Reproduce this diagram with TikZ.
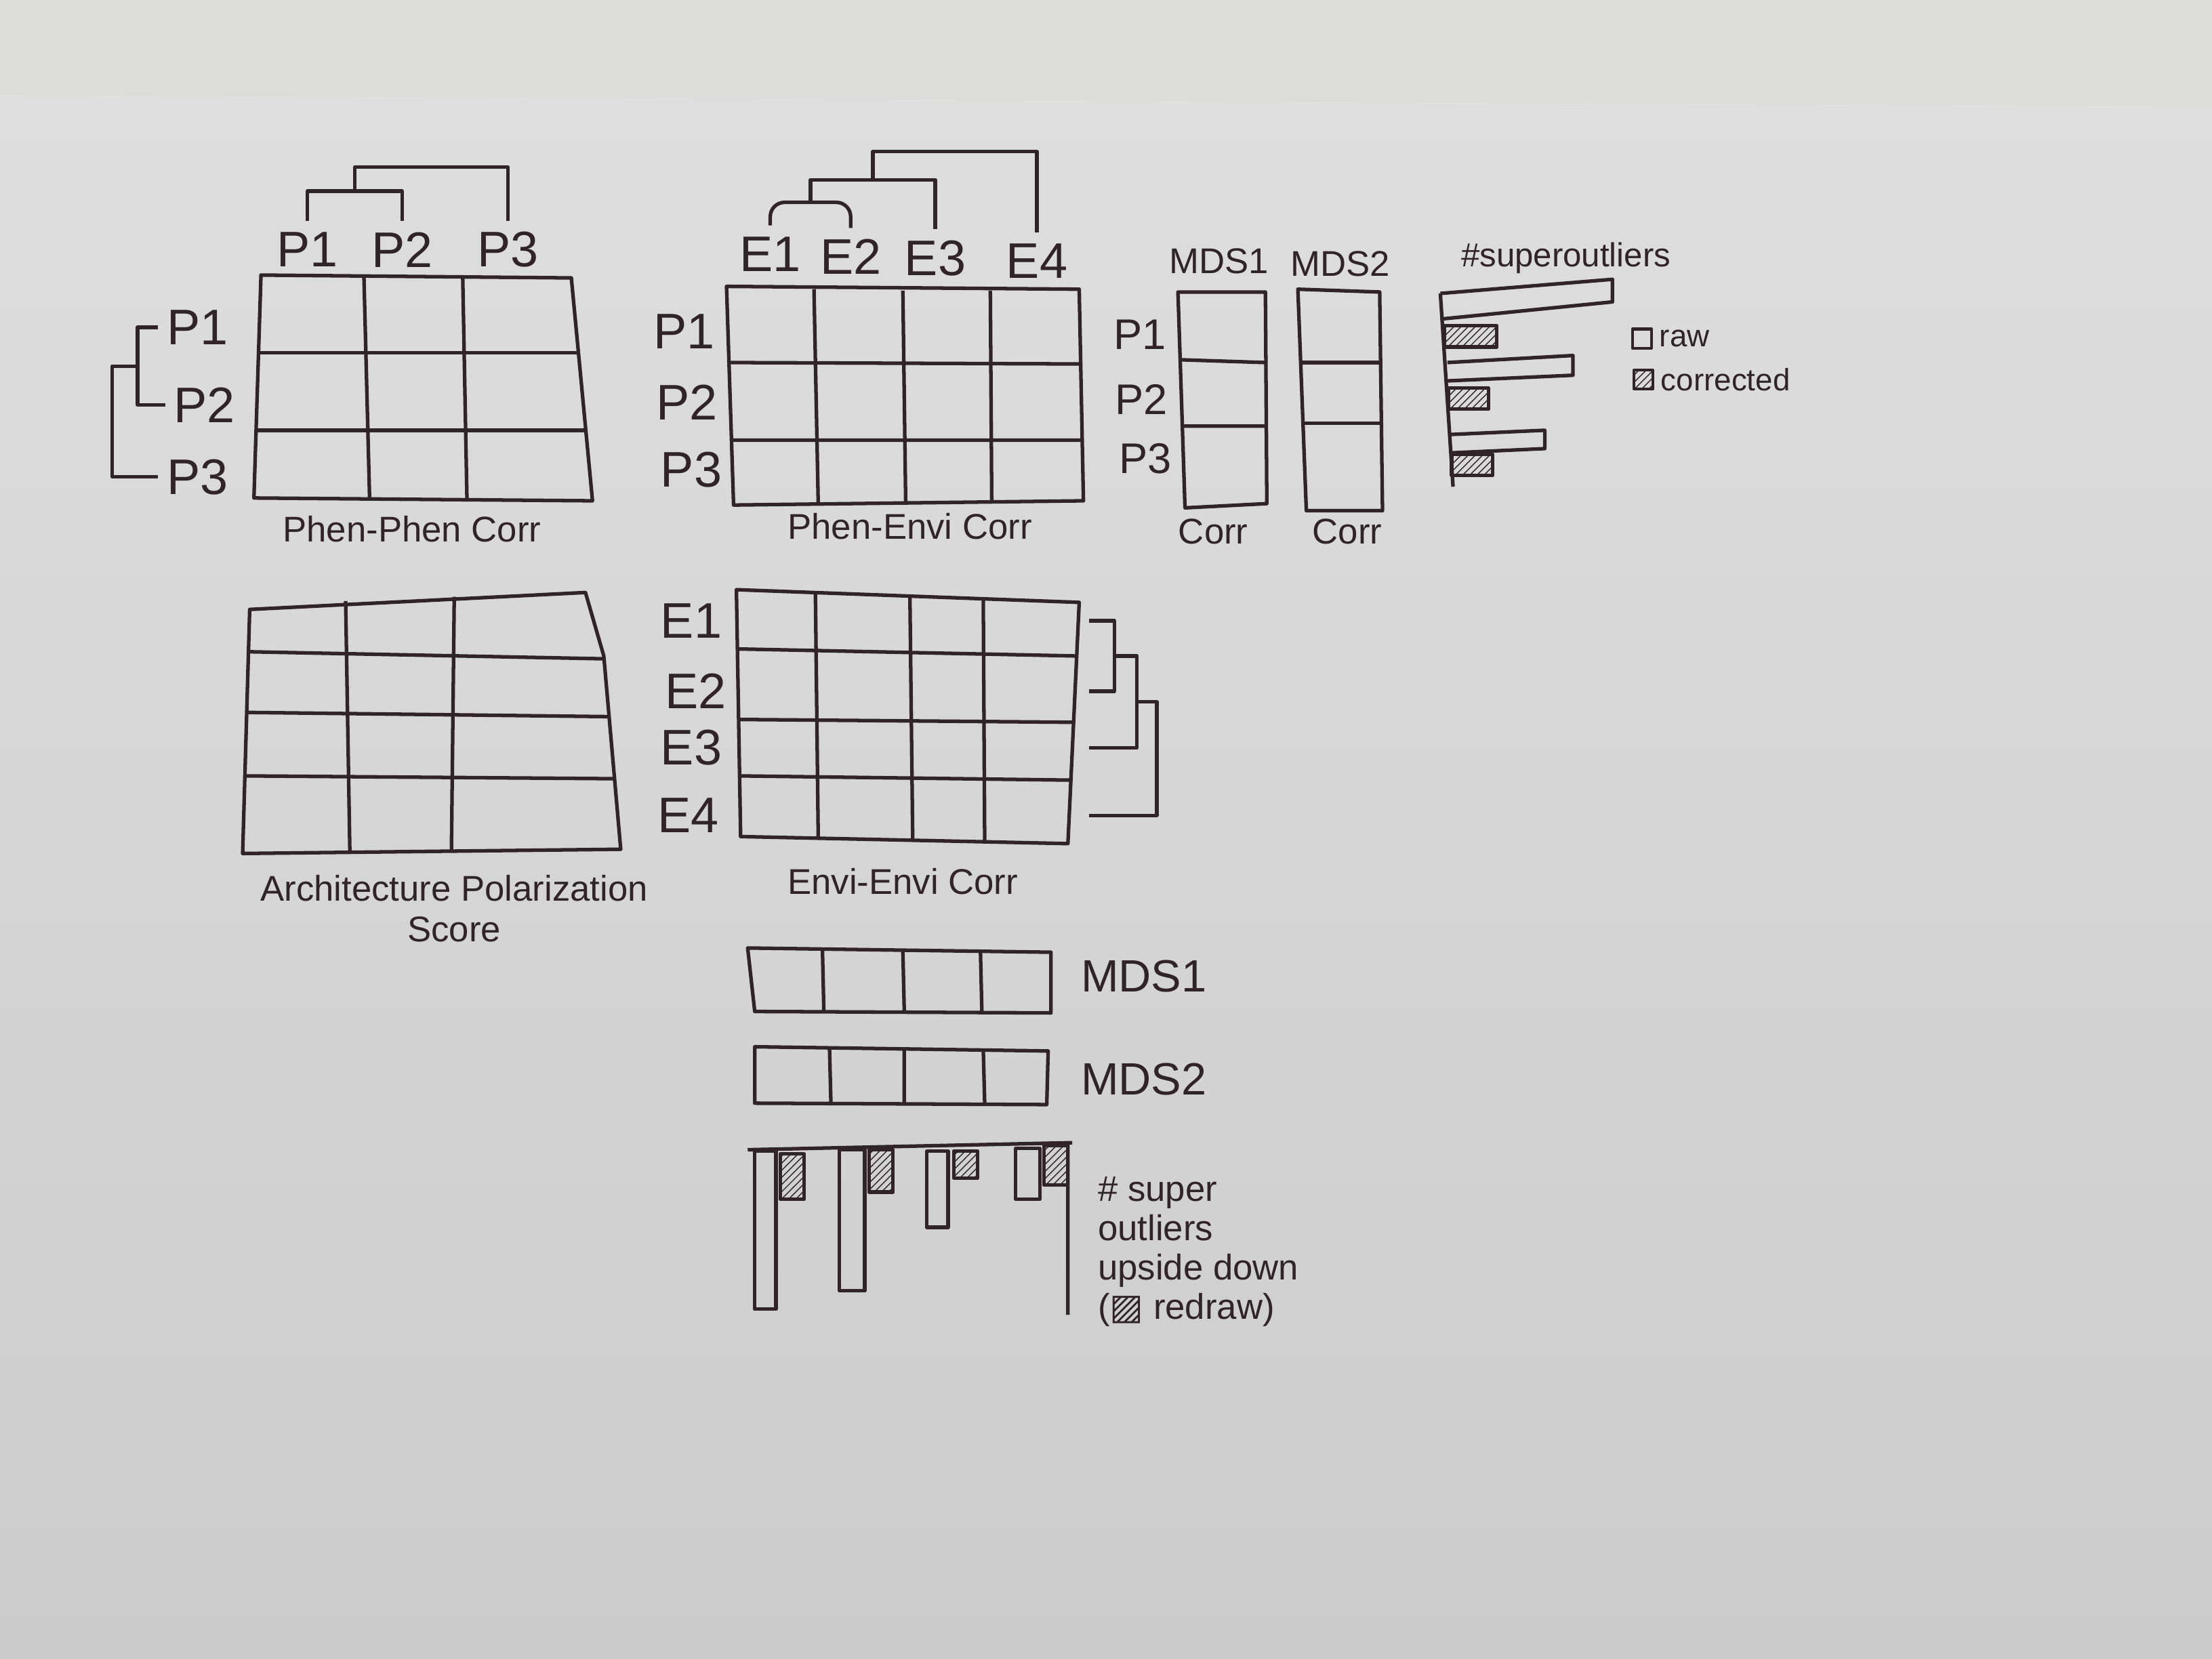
\documentclass[tikz,border=0pt]{standalone}
\usepackage{fontspec}
\setmainfont{Liberation Sans}
\newfontfamily\symbfont{DejaVu Sans}
\usetikzlibrary{calc,patterns,positioning}
\definecolor{ink}{RGB}{48,36,40}
\definecolor{paperhi}{RGB}{222,222,222}
\definecolor{paperlo}{RGB}{204,204,204}
\definecolor{wall}{RGB}{220,220,216}

\begin{document}
\begin{tikzpicture}[x=0.020816cm,y=-0.020816cm,color=ink,line width=1.5pt,line join=round,
	lbl/.style={font=\fontsize{21}{23}\selectfont,inner sep=0pt},
	captext/.style={font=\fontsize{15}{17}\selectfont,inner sep=0pt,align=center},
	note/.style={font=\fontsize{13}{14.5}\selectfont,inner sep=0pt,align=left},
	hatch/.style={draw=ink,pattern=north east lines,pattern color=ink}]
					%PAPER
					\useasboundingbox (0,0) rectangle (1568,1176);
					\fill[wall] (0,0) -- (1568,0) -- (1568,76) -- (0,68) -- cycle;
					\shade[top color=paperhi,bottom color=paperlo] (0,68) -- (1568,76) -- (1568,1176) -- (0,1176) -- cycle;
					%PHEN-PHEN CORR
					\draw (185,195) -- (405,197) -- (420,355) -- (180,353) -- cycle;
					\draw (258,197) -- (262,354) (328,196) -- (331,354);
					\draw (183,250) -- (410,250) (182,305) -- (415,305);
					\node[lbl] (ppc1) at (218,177) {P1};
					\node[lbl] (ppc2) at (285,177) {P2};
					\node[lbl] (ppc3) at (360,177) {P3};
					\node[lbl] (ppr1) at (140,232) {P1};
					\node[lbl] (ppr2) at (145,287) {P2};
					\node[lbl] (ppr3) at (140,338) {P3};
					\node[captext] (ppcap) at (292,375) {Phen-Phen Corr};
					\coordinate (pp12) at ($(ppc1.north)!0.5!(ppc2.north)+(0,-28)$);
					\draw ([yshift=4pt]ppc1.north) |- (pp12) -| ([yshift=4pt]ppc2.north);
					\draw (pp12) -- ++(0,-17) -| ([yshift=4pt]ppc3.north);
					\coordinate (pl12) at ($(ppr1.west)!0.5!(ppr2.west)+(-22,0)$);
					\draw ([xshift=-3pt]ppr1.west) -| (pl12) |- ([xshift=-3pt]ppr2.west);
					\draw (pl12) -- ++(-18,0) |- ([xshift=-3pt]ppr3.west);
					%PHEN-ENVI CORR
					\draw (515,203) -- (765,205) -- (768,355) -- (520,358) -- cycle;
					\draw (577,205) -- (580,357) (640,206) -- (642,356) (702,206) -- (703,355);
					\draw (517,257) -- (766,258) (519,312) -- (767,312);
					\node[lbl] (pec1) at (546,180) {E1};
					\node[lbl] (pec2) at (603,182) {E2};
					\node[lbl] (pec3) at (663,183) {E3};
					\node[lbl] (pec4) at (735,185) {E4};
					\node[lbl] (per1) at (485,235) {P1};
					\node[lbl] (per2) at (487,285) {P2};
					\node[lbl] (per3) at (490,333) {P3};
					\node[captext] (pecap) at (645,373) {Phen-Envi Corr};
					\coordinate (pe12) at ($(pec1.north)!0.5!(pec2.north)+(0,-24)$);
					\draw[rounded corners=6pt] ([yshift=4pt]pec1.north) |- (pe12) -| ([yshift=4pt]pec2.north);
					\draw (pe12) -- ++(0,-16) coordinate (pe123) -| ([yshift=4pt]pec3.north);
					\draw ($(pe123)!0.5!(pec3.north |- pe123)$) -- ++(0,-20) -| ([yshift=4pt]pec4.north);
					%MDS CORR
					\draw (835,207) -- (897,207) -- (898,357) -- (840,360) -- cycle;
					\draw (836,255) -- (897,257) (838,302) -- (898,302);
					\draw (920,205) -- (978,207) -- (980,362) -- (926,362) -- cycle;
					\draw (921,257) -- (979,257) (923,300) -- (979,300);
					\node[captext] (mdsa) at (864,185) {MDS1};
					\node[captext] (mdsb) at (950,187) {MDS2};
					\node[lbl,font=\fontsize{18}{20}\selectfont] (mr1) at (808,237) {P1};
					\node[lbl,font=\fontsize{18}{20}\selectfont] (mr2) at (809,283) {P2};
					\node[lbl,font=\fontsize{18}{20}\selectfont] (mr3) at (812,325) {P3};
					\node[captext] (mdsacap) at (860,377) {Corr};
					\node[captext] (mdsbcap) at (955,377) {Corr};
					%SUPEROUTLIERS
					\node[note,font=\fontsize{14}{15}\selectfont] (sotitle) at (1110,183) {\#superoutliers};
					\draw (1021,208) -- (1030,345);
					\draw (1021,208) -- (1143,198) -- (1143,214) -- (1023,226);
					\draw[hatch] (1024,231) rectangle (1061,246);
					\draw (1026,257) -- (1115,252) -- (1115,266) -- (1026,270);
					\draw[hatch] (1027,275) rectangle (1055,290);
					\draw (1028,308) -- (1095,305) -- (1095,318) -- (1029,321);
					\draw[hatch] (1029,322) rectangle (1058,337);
					\node[draw,minimum size=8pt,inner sep=0pt,line width=1.2pt] (lgraw) at (1164,240) {};
					\node[note,right=2pt of lgraw] (lgrawt) {raw};
					\node[hatch,minimum size=8pt,inner sep=0pt,line width=1.2pt] (lgcor) at (1165,269) {};
					\node[note,right=2pt of lgcor] (lgcort) {corrected};
					%ARCHITECTURE POLARIZATION SCORE
					\draw (177,432) -- (415,420) -- (428,465) -- (440,602) -- (172,605) -- cycle;
					\draw (245,426) -- (248,604) (322,423) -- (320,603);
					\draw (176,462) -- (428,467) (175,505) -- (432,508) (174,550) -- (436,552);
					\node[captext] (apcap) at (322,644) {Architecture Polarization\\Score};
					%ENVI-ENVI CORR
					\draw (522,418) -- (765,427) -- (757,598) -- (525,593) -- cycle;
					\draw (578,420) -- (580,594) (645,423) -- (647,596) (697,424) -- (698,596);
					\draw (523,460) -- (763,465) (524,510) -- (761,512) (524,550) -- (759,553);
					\node[lbl] (eer1) at (490,440) {E1};
					\node[lbl] (eer2) at (493,490) {E2};
					\node[lbl] (eer3) at (490,530) {E3};
					\node[lbl] (eer4) at (488,578) {E4};
					\node[captext] (eecap) at (640,625) {Envi-Envi Corr};
					\coordinate (ee12) at ($(772,0 |- eer1)!0.5!(772,0 |- eer2)+(18,0)$);
					\draw (772,0 |- eer1) -| (ee12) |- (772,0 |- eer2);
					\draw (ee12) -- ++(16,0) coordinate (ee3t) |- (772,0 |- eer3) coordinate (ee3b);
					\draw ($(ee3t)!0.5!(ee3t |- ee3b)$) -- ++(14,0) |- (772,0 |- eer4);
					%MDS ROWS
					\draw (530,672) -- (745,675) -- (745,718) -- (535,717) -- cycle;
					\draw (583,673) -- (584,717) (640,674) -- (641,717) (695,674) -- (696,717);
					\node[lbl,anchor=west,font=\fontsize{19}{21}\selectfont] (mdsrowa) at (765,692) {MDS1};
					\draw (535,742) -- (743,745) -- (742,783) -- (535,782) -- cycle;
					\draw (588,743) -- (589,782) (641,744) -- (641,782) (697,744) -- (698,782);
					\node[lbl,anchor=west,font=\fontsize{19}{21}\selectfont] (mdsrowb) at (765,765) {MDS2};
					%UPSIDE DOWN OUTLIERS
					\draw (530,815) -- (760,810) (757,810) -- (757,932);
					\draw (535,816) rectangle (550,928);
					\draw[hatch] (553,818) rectangle (570,850);
					\draw (595,815) rectangle (613,915);
					\draw[hatch] (616,815) rectangle (633,845);
					\draw (657,816) rectangle (672,870);
					\draw[hatch] (676,816) rectangle (693,835);
					\draw (720,814) rectangle (737,850);
					\draw[hatch] (740,812) rectangle (757,840);
					\node[note,anchor=north west,font=\fontsize{15}{16.5}\selectfont] (udnote) at (777,833) {\# super\\outliers\\upside down\\({\symbfont ▨} redraw)};
\end{tikzpicture}
\end{document}
